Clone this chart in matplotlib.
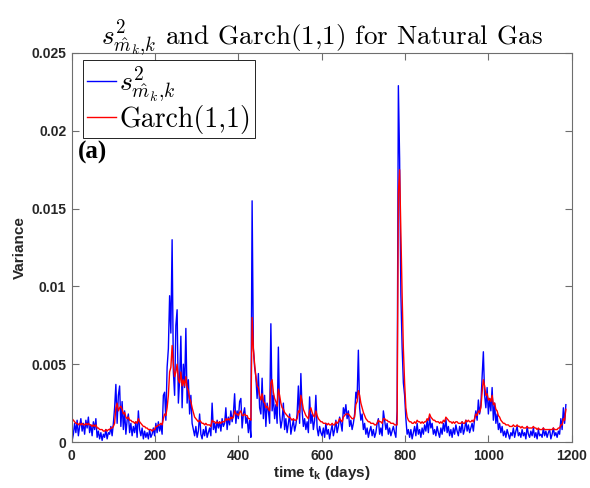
import numpy as np
import matplotlib
matplotlib.use("Agg")
import matplotlib.pyplot as plt

plt.rcParams["mathtext.fontset"] = "cm"
plt.rcParams["mathtext.rm"] = "Liberation Sans:bold"
plt.rcParams["mathtext.it"] = "Liberation Sans:bold"
plt.rcParams["mathtext.bf"] = "Liberation Sans:bold"

# Sample days (every third trading day)
days = np.arange(1, 1187, 3)

# Realised variance s^2_{m_k,k}, in units of 1e-4
s2_e4 = [
    1, 5, 12, 6, 14, 4, 10, 15, 7, 12,
    5, 14, 9, 16, 6, 11, 4, 13, 8, 15,
    3, 7, 2, 6, 1, 5, 3, 8, 2, 6,
    5, 10, 4, 12, 22, 37, 12, 30, 36, 10,
    26, 8, 20, 5, 14, 18, 6, 12, 4, 10,
    6, 13, 3, 20, 8, 4, 9, 2, 7, 3,
    6, 2, 8, 3, 5, 9, 4, 12, 6, 13,
    7, 11, 5, 30, 32, 14, 48, 60, 94, 70,
    130, 45, 30, 75, 85, 25, 40, 68, 22, 50,
    35, 73, 25, 40, 18, 30, 12, 8, 4, 10,
    3, 7, 18, 5, 2, 8, 4, 10, 3, 6,
    9, 4, 25, 8, 12, 6, 14, 9, 13, 7,
    15, 10, 12, 22, 8, 16, 11, 20, 13, 18,
    31, 12, 20, 15, 26, 28, 9, 18, 22, 12,
    16, 6, 14, 3, 155, 60, 48, 42, 28, 44,
    22, 18, 41, 15, 30, 10, 25, 20, 12, 76,
    20, 30, 15, 24, 12, 61, 18, 9, 14, 25,
    8, 15, 6, 12, 18, 5, 10, 14, 7, 11,
    18, 36, 12, 44, 20, 10, 15, 8, 13, 6,
    29, 12, 18, 8, 14, 30, 9, 4, 10, 6,
    4, 9, 3, 12, 5, 8, 2, 7, 11, 4,
    8, 14, 6, 10, 16, 12, 7, 22, 18, 24,
    15, 20, 10, 14, 8, 12, 18, 32, 28, 59,
    22, 14, 18, 8, 12, 5, 9, 3, 7, 10,
    4, 8, 3, 6, 12, 15, 5, 9, 4, 20,
    14, 8, 12, 5, 9, 4, 7, 10, 6, 3,
    20, 229, 182, 95, 61, 38, 30, 15, 5, 8,
    3, 8, 2, 6, 10, 4, 12, 5, 8, 3,
    9, 5, 11, 7, 14, 6, 16, 9, 12, 5,
    8, 4, 10, 6, 3, 9, 5, 12, 7, 15,
    6, 10, 4, 8, 3, 9, 5, 11, 7, 4,
    10, 6, 13, 5, 8, 14, 7, 11, 6, 9,
    12, 7, 15, 20, 14, 27, 18, 24, 42, 58,
    30, 22, 35, 18, 28, 20, 35, 14, 25, 12,
    18, 8, 12, 6, 10, 4, 7, 3, 8, 5,
    2, 6, 4, 9, 3, 7, 10, 4, 6, 3,
    8, 4, 6, 2, 10, 5, 3, 7, 4, 9,
    3, 6, 2, 8, 4, 5, 3, 9, 4, 7,
    3, 6, 8, 2, 5, 9, 4, 6, 3, 7,
    5, 15, 8, 22, 12, 24,
]

# GARCH(1,1) conditional variance, in units of 1e-4
garch_e4 = [
    15, 14, 13, 12, 12, 11, 12, 11, 12, 11,
    11, 12, 11, 12, 11, 11, 10, 11, 10, 11,
    9, 9, 8, 8, 8, 7, 7, 8, 7, 8,
    8, 9, 9, 10, 12, 22, 25, 20, 22, 23,
    21, 18, 19, 16, 15, 16, 14, 14, 13, 13,
    12, 13, 12, 15, 13, 12, 11, 10, 10, 9,
    9, 8, 8, 8, 7, 8, 8, 10, 10, 11,
    11, 12, 11, 15, 18, 17, 22, 30, 45, 48,
    62, 50, 42, 45, 50, 40, 38, 45, 36, 40,
    36, 42, 35, 33, 28, 26, 22, 19, 16, 15,
    14, 13, 14, 13, 12, 12, 11, 12, 11, 11,
    11, 10, 14, 13, 13, 12, 13, 12, 13, 12,
    13, 13, 13, 15, 14, 15, 14, 16, 15, 16,
    20, 18, 18, 17, 19, 20, 17, 17, 18, 17,
    17, 15, 15, 14, 80, 60, 50, 42, 36, 35,
    30, 27, 31, 26, 25, 22, 23, 21, 20, 38,
    40, 32, 28, 26, 23, 34, 30, 25, 22, 21,
    19, 18, 17, 16, 16, 15, 14, 15, 14, 14,
    15, 20, 19, 30, 26, 21, 19, 17, 16, 15,
    20, 22, 19, 17, 16, 20, 17, 15, 14, 13,
    13, 12, 12, 12, 11, 12, 11, 11, 12, 11,
    11, 13, 12, 13, 15, 14, 13, 16, 17, 18,
    18, 18, 17, 16, 15, 15, 16, 24, 26, 33,
    30, 25, 22, 19, 17, 15, 14, 13, 13, 12,
    12, 12, 11, 11, 12, 14, 13, 13, 12, 15,
    15, 14, 14, 13, 13, 12, 12, 12, 11, 11,
    11, 160, 175, 135, 95, 60, 38, 22, 16, 14,
    13, 13, 12, 12, 13, 12, 14, 13, 13, 12,
    13, 12, 13, 13, 15, 14, 18, 16, 15, 14,
    14, 13, 13, 13, 12, 13, 12, 14, 13, 16,
    15, 14, 13, 13, 12, 13, 12, 13, 13, 12,
    12, 12, 13, 12, 12, 14, 13, 14, 13, 13,
    14, 13, 15, 18, 17, 20, 19, 22, 32, 40,
    36, 30, 31, 27, 28, 26, 30, 24, 25, 21,
    20, 17, 16, 14, 13, 12, 12, 11, 11, 11,
    10, 10, 10, 11, 10, 10, 11, 10, 10, 9,
    10, 9, 9, 9, 10, 9, 9, 9, 9, 10,
    9, 9, 8, 9, 8, 8, 8, 9, 8, 8,
    8, 8, 8, 8, 8, 9, 8, 8, 8, 9,
    9, 11, 11, 15, 14, 21,
]

x_ticks = [0, 200, 400, 600, 800, 1000, 1200]
y_ticks = [0, 0.005, 0.01, 0.015, 0.02, 0.025]
y_tick_labels = ["0", "0.005", "0.01", "0.015", "0.02", "0.025"]

s2 = np.asarray(s2_e4, dtype=float) * 1e-4
garch = np.asarray(garch_e4, dtype=float) * 1e-4

fig = plt.figure(figsize=(5.90, 4.88), dpi=100)
ax = fig.add_axes([71.7 / 590, 46 / 488, 500 / 590, 389 / 488])

ax.plot(days, s2, color=(0, 0, 1), lw=1.0, label=r"$s^2_{\hat{m}_k{,}k}$")
ax.plot(days, garch, color=(1, 0, 0), lw=1.0, label="Garch(1,1)")

ax.set_xlim(0, 1200)
ax.set_ylim(0, 0.025)
ax.set_xticks(x_ticks)
ax.set_xticklabels([str(t) for t in x_ticks])
ax.set_yticks(y_ticks)
ax.set_yticklabels(y_tick_labels)

frame_col = "#6e6e6e"
text_col = "#262626"
for sp in ax.spines.values():
    sp.set_color(frame_col)
    sp.set_linewidth(0.8)
ax.tick_params(direction="in", length=5, width=0.8, color=frame_col,
               top=True, right=True, labelcolor=text_col)
ax.tick_params(axis="y", pad=4)
ax.tick_params(axis="x", pad=5)
for lab in ax.get_xticklabels() + ax.get_yticklabels():
    lab.set_fontfamily("Liberation Sans")
    lab.set_fontweight("bold")
    lab.set_fontsize(10)

ax.set_ylabel("Variance", fontfamily="Liberation Sans", fontweight="bold",
              fontsize=11, color=text_col, labelpad=3)
xl = ax.set_xlabel(r"time t$_\mathrm{k}$ (days)", fontfamily="Liberation Sans",
                   fontweight="bold", fontsize=11, color=text_col, labelpad=1)
xl.set_math_fontfamily("custom")

ax.set_title(r"$s^2_{\hat{m}_k{,}k}$ and Garch(1,1) for Natural Gas",
             fontfamily="cmr10", fontsize=19.5, color="black", pad=6)

leg = ax.legend(loc="upper left", bbox_to_anchor=(0.0226, 0.982),
                borderaxespad=0, prop={"family": "cmr10", "size": 20},
                fancybox=False, framealpha=1, edgecolor="black",
                handlelength=1.05, handletextpad=0.1, borderpad=0.15,
                labelspacing=0.05)
leg.get_frame().set_linewidth(0.6)

ax.text(0.013, 0.745, "(a)", transform=ax.transAxes, fontfamily="Liberation Serif",
        fontweight="bold", fontsize=18, va="center", ha="left")

fig.savefig("out.png", dpi=100)
